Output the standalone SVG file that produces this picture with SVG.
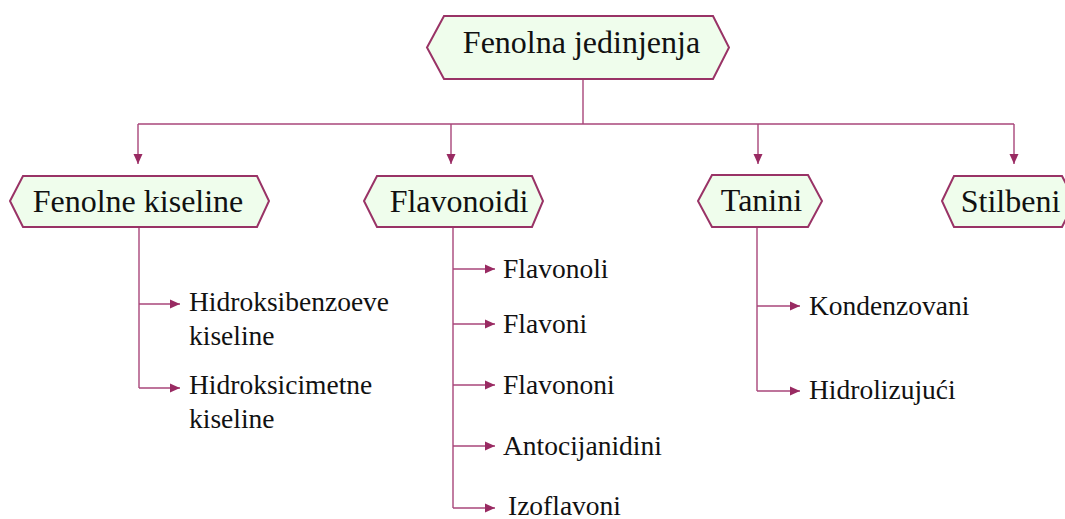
<svg xmlns="http://www.w3.org/2000/svg" width="1065" height="519" viewBox="0 0 1065 519">
<style>
.box{fill:#effdec;stroke:#993366;stroke-width:2;stroke-linejoin:miter}
text{font-family:'Liberation Serif','Times New Roman','DejaVu Serif',serif;fill:#111}
.main{font-size:32px;text-anchor:middle}
.leaf{font-size:27.5px}
.con{fill:none;stroke:#a8467a;stroke-width:1.4}
</style>
<defs>
<marker id="arr" markerUnits="userSpaceOnUse" markerWidth="10" markerHeight="10" viewBox="0 0 10 10" refX="10" refY="5" orient="auto">
<path d="M0,0.5 L10,5 L0,9.5 Z" fill="#992a62"/>
</marker>
</defs>
<rect width="1065" height="519" fill="#ffffff"/>
<g id="connectors">
<path class="con" d="M583,79 V124"/>
<path class="con" d="M138,124 H1014"/>
<path class="con" d="M138,124 V164" marker-end="url(#arr)"/>
<path class="con" d="M451,124 V164" marker-end="url(#arr)"/>
<path class="con" d="M758,124 V164" marker-end="url(#arr)"/>
<path class="con" d="M1014,124 V164" marker-end="url(#arr)"/>
<path class="con" d="M139,227 V388"/>
<path class="con" d="M139,304 H180" marker-end="url(#arr)"/>
<path class="con" d="M139,388 H180" marker-end="url(#arr)"/>
<path class="con" d="M453,227 V508"/>
<path class="con" d="M453,269 H495" marker-end="url(#arr)"/>
<path class="con" d="M453,324 H495" marker-end="url(#arr)"/>
<path class="con" d="M453,385 H495" marker-end="url(#arr)"/>
<path class="con" d="M453,446 H495" marker-end="url(#arr)"/>
<path class="con" d="M453,508 H495" marker-end="url(#arr)"/>
<path class="con" d="M757,227 V391"/>
<path class="con" d="M757,306 H800" marker-end="url(#arr)"/>
<path class="con" d="M757,391 H800" marker-end="url(#arr)"/>
</g>
<g id="node-fenolna-jedinjenja">
<polygon class="box" points="427,47.5 444,16 713,16 729,47.5 713,79 444,79"/>
<text class="main" x="581.5" y="53" font-family="Liberation Serif, serif">Fenolna jedinjenja</text>
</g>
<g id="node-fenolne-kiseline">
<polygon class="box" points="10,201 23,176 257,176 269,201 257,227 23,227"/>
<text class="main" x="138" y="212">Fenolne kiseline</text>
</g>
<g id="node-flavonoidi">
<polygon class="box" points="364,201 377,176 532,176 543,201 532,227 377,227"/>
<text class="main" x="459" y="212">Flavonoidi</text>
</g>
<g id="node-tanini">
<polygon class="box" points="698,201 712,175 808,175 822,201 808,227 712,227"/>
<text class="main" x="761.5" y="211">Tanini</text>
</g>
<g id="node-stilbeni">
<polygon class="box" points="942,201 954,176 1062,176 1075,201 1062,227 954,227"/>
<text class="main" x="1010.5" y="212">Stilbeni</text>
</g>
<g id="node-hidroksibenzoeve">
<text class="leaf" x="189" y="311">Hidroksibenzoeve</text>
<text class="leaf" x="189" y="345">kiseline</text>
</g>
<g id="node-hidroksicimetne">
<text class="leaf" x="189" y="394">Hidroksicimetne</text>
<text class="leaf" x="189" y="428">kiseline</text>
</g>
<g id="node-flavonoli"><text class="leaf" x="503" y="278">Flavonoli</text></g>
<g id="node-flavoni"><text class="leaf" x="503" y="333">Flavoni</text></g>
<g id="node-flavononi"><text class="leaf" x="503" y="394">Flavononi</text></g>
<g id="node-antocijanidini"><text class="leaf" x="503" y="455">Antocijanidini</text></g>
<g id="node-izoflavoni"><text class="leaf" x="508" y="515">Izoflavoni</text></g>
<g id="node-kondenzovani"><text class="leaf" x="809" y="315">Kondenzovani</text></g>
<g id="node-hidrolizujuci"><text class="leaf" x="809" y="399">Hidrolizujući</text></g>
</svg>
